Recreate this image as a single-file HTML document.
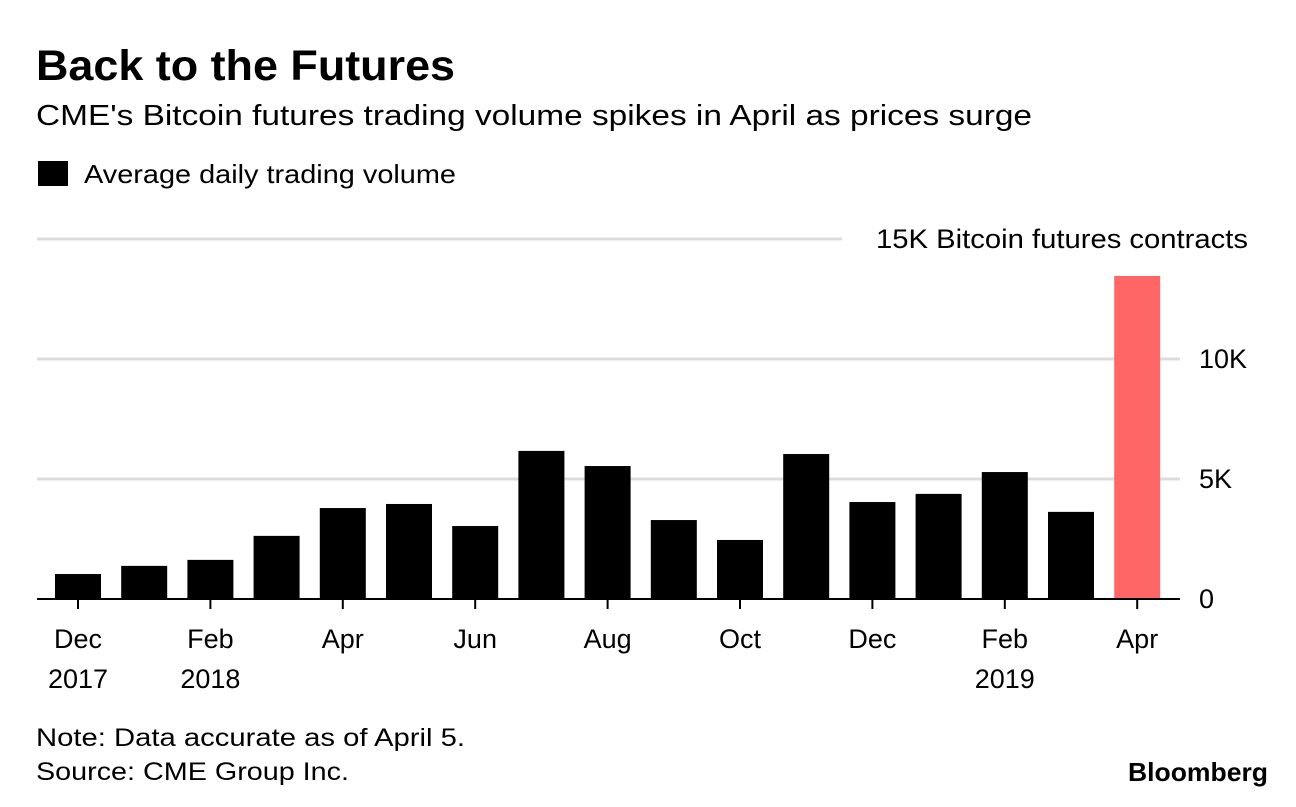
<!DOCTYPE html>
<html><head><meta charset="utf-8"><style>
body{margin:0;background:#fff;font-family:"Liberation Sans",sans-serif;}
svg text{font-family:"Liberation Sans",sans-serif;}
</style></head><body>
<svg width="1296" height="802" xmlns="http://www.w3.org/2000/svg">
<text x="36" y="80" font-size="43" font-weight="bold" fill="#000" textLength="419" lengthAdjust="spacingAndGlyphs">Back to the Futures</text>
<text x="36" y="125" font-size="29" fill="#000" textLength="996" lengthAdjust="spacingAndGlyphs">CME's Bitcoin futures trading volume spikes in April as prices surge</text>
<rect x="38" y="161" width="30" height="25" fill="#000"/>
<text x="84" y="183" font-size="26" fill="#000" textLength="372" lengthAdjust="spacingAndGlyphs">Average daily trading volume</text>
<g id="grid"></g>
<g id="bars"></g>
<g id="xaxis"></g>
<text x="36" y="746" font-size="25" fill="#000" textLength="429" lengthAdjust="spacingAndGlyphs">Note: Data accurate as of April 5.</text>
<text x="36" y="780" font-size="25" fill="#000" textLength="313" lengthAdjust="spacingAndGlyphs">Source: CME Group Inc.</text>
<text x="1128" y="781" font-size="26" font-weight="bold" fill="#000" textLength="140" lengthAdjust="spacingAndGlyphs">Bloomberg</text>
</svg>
<script>
const categories=["Dec 2017","Jan 2018","Feb 2018","Mar 2018","Apr 2018","May 2018","Jun 2018","Jul 2018","Aug 2018","Sep 2018","Oct 2018","Nov 2018","Dec 2018","Jan 2019","Feb 2019","Mar 2019","Apr 2019"];
const values=[1.04,1.38,1.63,2.63,3.79,3.96,3.04,6.17,5.54,3.29,2.46,6.04,4.04,4.38,5.29,3.63,13.46];
const yTicks=[0,5,10,15];
const yTickLabels=["0","5K","10K","15K Bitcoin futures contracts"];
const xLabelIdx=[0,2,4,6,8,10,12,14,16];
const xLabels1=["Dec","Feb","Apr","Jun","Aug","Oct","Dec","Feb","Apr"];
const xLabels2=["2017","2018","","","","","","2019",""];
const NS="http://www.w3.org/2000/svg";
function y(v){return 599-v*24;}
function xc(i){return 78+i*66.2;}
function mk(tag,attrs,parent){const e=document.createElementNS(NS,tag);for(const k in attrs)e.setAttribute(k,attrs[k]);parent.appendChild(e);return e;}
const grid=document.getElementById('grid'),bars=document.getElementById('bars'),xa=document.getElementById('xaxis');
yTicks.forEach((t,i)=>{
 if(t>0){const l=mk('line',{x1:37,x2:t===15?842:1180,y1:y(t),y2:y(t),stroke:'#dcdcdc','stroke-width':3},grid);
 
 }
 const attrs={x:t===15?876:1199,y:y(t)+9,'font-size':27,fill:'#000'};
 if(t===15){attrs.textLength=372;attrs.lengthAdjust='spacingAndGlyphs';}
 const tx=mk('text',attrs,grid);
 tx.textContent=yTickLabels[i];
 
 
});
values.forEach((v,i)=>{
 const r=mk('rect',{x:xc(i)-23,y:y(v),width:46,height:599-y(v),fill:i===values.length-1?'#ff6666':'#000'},bars);
 
 
});
const base=mk('line',{x1:37,x2:1180,y1:599,y2:599,stroke:'#000','stroke-width':2},xa);


xLabelIdx.forEach((idx,j)=>{
 const tk=mk('line',{x1:xc(idx),x2:xc(idx),y1:599,y2:609,stroke:'#000','stroke-width':2},xa);
 
 
 const t1=mk('text',{x:xc(idx),y:648,'font-size':27,'text-anchor':'middle',fill:'#000'},xa);
 t1.textContent=xLabels1[j];
 
 
 if(xLabels2[j]){const t2=mk('text',{x:xc(idx),y:688,'font-size':27,'text-anchor':'middle',fill:'#000'},xa);
 t2.textContent=xLabels2[j];
 
 }
});
</script>
</body></html>
